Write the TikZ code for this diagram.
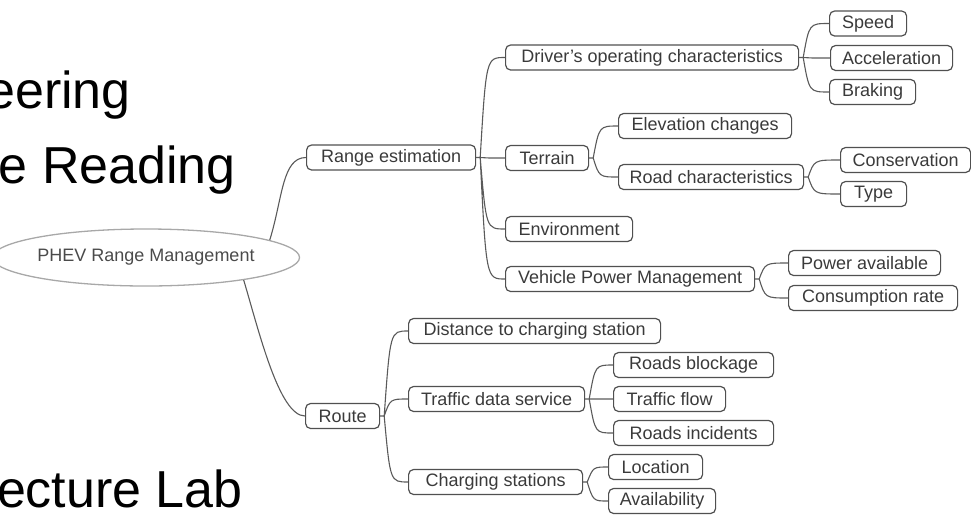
\documentclass[tikz,border=0pt]{standalone}
\usepackage{fontspec}
\setmainfont{Liberation Sans}
\usetikzlibrary{calc,shapes.geometric}

\definecolor{edgegray}{HTML}{5A5A5A}
\definecolor{boxgray}{HTML}{505050}
\definecolor{textgray}{HTML}{3A3A3A}
\definecolor{ovalgray}{HTML}{A8A8A8}
\definecolor{ovaltext}{HTML}{4A4A4A}

\tikzset{
  topic/.style={draw=boxgray, line width=1.2pt, rounded corners=5pt, anchor=west,
    minimum height=25pt, inner sep=0pt, text=textgray,
    font=\fontsize{18}{20}\selectfont},
  central/.style={ellipse, draw=ovalgray, line width=1.3pt, minimum width=260pt,
    minimum height=57pt, inner sep=0pt, text=ovaltext,
    font=\fontsize{18}{20}\selectfont},
  link/.style={draw=edgegray, line width=1.1pt},
  branch/.style={to path={.. controls ($(\tikztostart |- \tikztotarget)+(6,0)$) .. (\tikztotarget) \tikztonodes}},
  banner/.style={anchor=base east, inner sep=0pt, text=black,
    font=\fontsize{52}{60}\selectfont},
}

\begin{document}
\begin{tikzpicture}[x=1pt, y=-1pt]
\useasboundingbox (0,0) rectangle (971,515);

% slide text behind the map
\node[banner] (t1) at (131,108) {eering};
\node[banner] (t2) at (236,183) {e Reading};
\node[banner] (t3) at (243,507) {ecture Lab};

% central topic
\node[central] (root) at (146,257.5) {PHEV Range Management};

% main branches
\node[topic, minimum width=169pt] (re)    at (306,157.5) {Range estimation};
\node[topic, minimum width=74pt]  (route) at (305,416)   {Route};

% range estimation
\node[topic, minimum width=293pt] (drv)  at (505,57.5) {Driver's operating characteristics};
\node[topic, minimum width=83pt]  (ter)  at (505,158)  {Terrain};
\node[topic, minimum width=127pt] (env)  at (505,229)  {Environment};
\node[topic, minimum width=249pt] (vpm)  at (505,279)  {Vehicle Power Management};

\node[topic, minimum width=77pt]  (spd)  at (829,23.5) {Speed};
\node[topic, minimum width=122pt] (acc)  at (830,58)   {Acceleration};
\node[topic, minimum width=86pt]  (brk)  at (829,92)   {Braking};

\node[topic, minimum width=173pt] (elev) at (618,126)  {Elevation changes};
\node[topic, minimum width=185pt] (road) at (618,177)  {Road characteristics};
\node[topic, minimum width=130pt] (cons) at (840,160)  {Conservation};
\node[topic, minimum width=66pt]  (type) at (840,194)  {Type};

\node[topic, minimum width=152pt] (pwr)  at (788,263)  {Power available};
\node[topic, minimum width=169pt] (rate) at (788,298)  {Consumption rate};

% route
\node[topic, minimum width=252pt] (dist) at (408,331)  {Distance to charging station};
\node[topic, minimum width=176pt] (tds)  at (408,399)  {Traffic data service};
\node[topic, minimum width=174pt] (chg)  at (408,482)  {Charging stations};

\node[topic, minimum width=160pt] (blk)  at (613,365)  {Roads blockage};
\node[topic, minimum width=112pt] (flow) at (613,399)  {Traffic flow};
\node[topic, minimum width=160pt] (inc)  at (613,433)  {Roads incidents};
\node[topic, minimum width=94pt]  (loc)  at (608,467)  {Location};
\node[topic, minimum width=107pt] (avl)  at (608,501)  {Availability};

% branching points just right of each parent
\foreach \p in {re,route,drv,ter,road,vpm,tds,chg}
  \coordinate (\p-j) at ($(\p.east)+(4,0)$);

% connectors
\draw[link] (root.8) .. controls +(13,-42) and +(-24,0) .. (re.west);
\draw[link] (root.-13) .. controls +(15,50) and +(-26,0) .. (route.west);

\draw[link] (re.east) -- (re-j)
  foreach \c in {drv,ter,env,vpm} {(re-j) to[branch] (\c.west)};
\draw[link] (drv.east) -- (drv-j)
  foreach \c in {spd,acc,brk} {(drv-j) to[branch] (\c.west)};
\draw[link] (ter.east) -- (ter-j)
  foreach \c in {elev,road} {(ter-j) to[branch] (\c.west)};
\draw[link] (road.east) -- (road-j)
  foreach \c in {cons,type} {(road-j) to[branch] (\c.west)};
\draw[link] (vpm.east) -- (vpm-j)
  foreach \c in {pwr,rate} {(vpm-j) to[branch] (\c.west)};

\draw[link] (route.east) -- (route-j)
  foreach \c in {dist,tds,chg} {(route-j) to[branch] (\c.west)};
\draw[link] (tds.east) -- (tds-j)
  foreach \c in {blk,flow,inc} {(tds-j) to[branch] (\c.west)};
\draw[link] (chg.east) -- (chg-j)
  foreach \c in {loc,avl} {(chg-j) to[branch] (\c.west)};
\end{tikzpicture}
\end{document}
